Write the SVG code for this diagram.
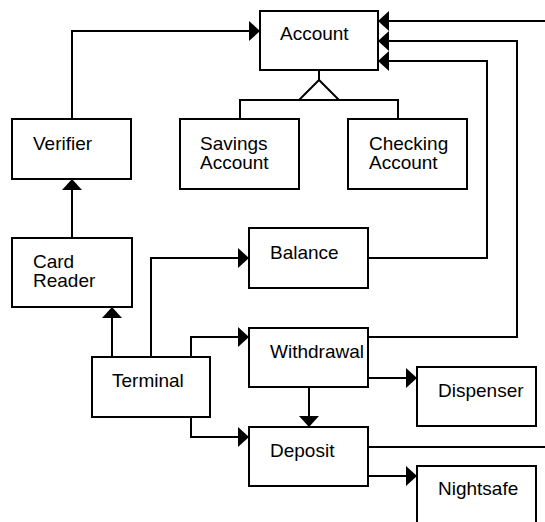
<svg xmlns="http://www.w3.org/2000/svg" width="545" height="522" viewBox="0 0 545 522">
<style>
.box{fill:#fff;stroke:#000;stroke-width:2}
.lbl{font-family:"Liberation Sans",Arial,sans-serif;font-size:19px;fill:#000}
.c{fill:none;stroke:#000;stroke-width:2}
.a{marker-end:url(#ah)}
</style>
<defs>
<marker id="ah" markerUnits="userSpaceOnUse" markerWidth="12" markerHeight="22" refX="11" refY="10" orient="auto" viewBox="0 0 12 22">
<path d="M0,0 L11,10 L0,20 z" fill="#000"/>
</marker>
</defs>
<rect width="545" height="522" fill="#fff"/>
<g id="connectors">
<path class="c a" d="M72,119 V31 H260"/>
<path class="c" d="M319,70 V80"/>
<polygon points="319,80 299,100 339,100" fill="#fff" stroke="#000" stroke-width="2"/>
<path class="c" d="M240,119 V100 H398 V119"/>
<path class="c a" d="M72,238 V179"/>
<path class="c a" d="M112,357 V307"/>
<path class="c a" d="M151,357 V258 H249"/>
<path class="c a" d="M191,357 V337 H249"/>
<path class="c a" d="M191,417 V437 H249"/>
<path class="c a" d="M368,258 H487 V61 H378"/>
<path class="c a" d="M368,337 H517 V41 H378"/>
<path class="c a" d="M545,21 H378"/>
<path class="c a" d="M368,378 H417"/>
<path class="c a" d="M309,387 V427"/>
<path class="c" d="M368,447 H545"/>
<path class="c a" d="M368,476 H417"/>
</g>
<g id="account"><rect class="box" x="260" y="11" width="118" height="59"/><text class="lbl" x="280" y="40">Account</text></g>
<g id="savings"><rect class="box" x="180" y="119" width="119" height="70"/><text class="lbl" x="200" y="150">Savings</text><text class="lbl" x="200" y="169">Account</text></g>
<g id="checking"><rect class="box" x="348" y="119" width="119" height="70"/><text class="lbl" x="369" y="150">Checking</text><text class="lbl" x="369" y="169">Account</text></g>
<g id="verifier"><rect class="box" x="12" y="119" width="119" height="60"/><text class="lbl" x="33" y="150">Verifier</text></g>
<g id="cardreader"><rect class="box" x="12" y="238" width="120" height="69"/><text class="lbl" x="33" y="268">Card</text><text class="lbl" x="33" y="287">Reader</text></g>
<g id="terminal"><rect class="box" x="92" y="357" width="118" height="60"/><text class="lbl" x="112" y="387">Terminal</text></g>
<g id="balance"><rect class="box" x="249" y="228" width="119" height="60"/><text class="lbl" x="270" y="259">Balance</text></g>
<g id="withdrawal"><rect class="box" x="249" y="328" width="119" height="59"/><text class="lbl" x="270" y="358">Withdrawal</text></g>
<g id="dispenser"><rect class="box" x="417" y="367" width="119" height="59"/><text class="lbl" x="438" y="397">Dispenser</text></g>
<g id="deposit"><rect class="box" x="249" y="427" width="119" height="59"/><text class="lbl" x="270" y="457">Deposit</text></g>
<g id="nightsafe"><rect class="box" x="417" y="466" width="119" height="70"/><text class="lbl" x="438" y="495">Nightsafe</text></g>
</svg>
